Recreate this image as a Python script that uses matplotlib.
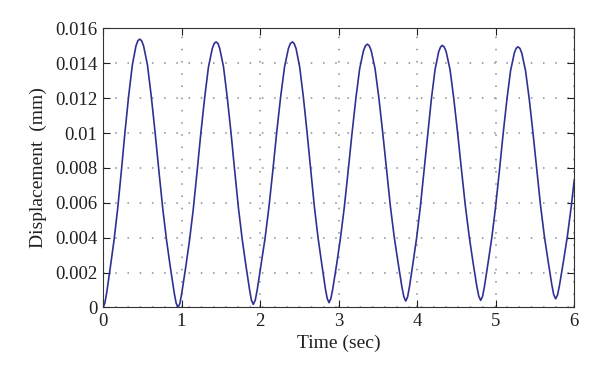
import matplotlib
matplotlib.use("Agg")
import matplotlib.pyplot as plt

# displacement trace (time in s, displacement in mm)
time_s = [
    0.000, 0.023, 0.047, 0.093, 0.140, 0.187, 0.234, 0.280, 0.327, 0.374, 0.420, 0.444, 0.467,
    0.491, 0.516, 0.565, 0.613, 0.662, 0.711, 0.760, 0.809, 0.857, 0.906, 0.931, 0.955,
    0.979, 1.003, 1.052, 1.100, 1.149, 1.197, 1.245, 1.294, 1.342, 1.391, 1.415, 1.439,
    1.463, 1.486, 1.534, 1.581, 1.629, 1.676, 1.723, 1.771, 1.818, 1.866, 1.889, 1.913,
    1.938, 1.963, 2.012, 2.062, 2.112, 2.162, 2.211, 2.261, 2.311, 2.360, 2.385, 2.410,
    2.433, 2.457, 2.503, 2.550, 2.597, 2.644, 2.690, 2.737, 2.784, 2.830, 2.854, 2.877,
    2.901, 2.926, 2.975, 3.023, 3.072, 3.121, 3.170, 3.219, 3.267, 3.316, 3.341, 3.365,
    3.389, 3.414, 3.463, 3.512, 3.561, 3.610, 3.658, 3.707, 3.756, 3.805, 3.830, 3.854,
    3.877, 3.901, 3.947, 3.994, 4.040, 4.087, 4.134, 4.180, 4.227, 4.273, 4.297, 4.320,
    4.344, 4.369, 4.418, 4.466, 4.515, 4.564, 4.613, 4.662, 4.710, 4.759, 4.784, 4.808,
    4.832, 4.856, 4.903, 4.951, 4.998, 5.046, 5.093, 5.141, 5.188, 5.236, 5.259, 5.283,
    5.307, 5.331, 5.379, 5.427, 5.475, 5.523, 5.570, 5.618, 5.666, 5.714, 5.738, 5.762,
    5.787, 5.812, 5.862, 5.912, 5.962, 6.000,
]
disp_mm = [
    0.0, 0.00025, 0.00085, 0.00231, 0.00385, 0.00569, 0.00785, 0.01008, 0.01216, 0.01393, 0.01501, 0.01530, 0.01539,
    0.01530, 0.01501, 0.01393, 0.01216, 0.01008, 0.00785, 0.00569, 0.00385, 0.00231, 0.00085, 0.00025, 0.0,
    0.00024, 0.00084, 0.00229, 0.00381, 0.00564, 0.00777, 0.00998, 0.01203, 0.01378, 0.01485, 0.01514, 0.01523,
    0.01514, 0.01485, 0.01380, 0.01207, 0.01004, 0.00786, 0.00575, 0.00394, 0.00244, 0.00101, 0.00042, 0.00018,
    0.00042, 0.00101, 0.00244, 0.00394, 0.00575, 0.00786, 0.01004, 0.01207, 0.01380, 0.01485, 0.01514, 0.01523,
    0.01514, 0.01486, 0.01381, 0.01209, 0.01007, 0.00790, 0.00581, 0.00402, 0.00252, 0.00110, 0.00052, 0.00028,
    0.00052, 0.00110, 0.00250, 0.00399, 0.00576, 0.00784, 0.00999, 0.01199, 0.01369, 0.01473, 0.01501, 0.01510,
    0.01501, 0.01473, 0.01370, 0.01201, 0.01002, 0.00788, 0.00582, 0.00405, 0.00258, 0.00118, 0.00061, 0.00037,
    0.00060, 0.00118, 0.00257, 0.00404, 0.00579, 0.00785, 0.00997, 0.01195, 0.01364, 0.01466, 0.01494, 0.01503,
    0.01494, 0.01466, 0.01364, 0.01196, 0.00999, 0.00787, 0.00582, 0.00407, 0.00260, 0.00121, 0.00064, 0.00041,
    0.00064, 0.00121, 0.00259, 0.00405, 0.00579, 0.00783, 0.00993, 0.01190, 0.01357, 0.01459, 0.01486, 0.01495,
    0.01486, 0.01459, 0.01358, 0.01192, 0.00996, 0.00787, 0.00585, 0.00411, 0.00267, 0.00129, 0.00073, 0.00050,
    0.00073, 0.00129, 0.00266, 0.00410, 0.00583, 0.00735,
]

x_ticks = [0, 1, 2, 3, 4, 5, 6]
y_ticks = [0, 0.002, 0.004, 0.006, 0.008, 0.01, 0.012, 0.014, 0.016]
y_tick_labels = ["0", "0.002", "0.004", "0.006", "0.008", "0.01", "0.012", "0.014", "0.016"]

plt.rcParams["font.family"] = ["Liberation Serif", "DejaVu Serif"]
plt.rcParams["font.size"] = 13.5
text_color = "#231f20"

fig = plt.figure(figsize=(6.0, 3.85), dpi=100)
ax = fig.add_axes([0.1717, 0.2013, 0.7855, 0.7247])

ax.plot(time_s, disp_mm, color="#2E3192", linewidth=1.2,
        solid_joinstyle="round", solid_capstyle="round")

ax.set_xlim(0, 6)
ax.set_ylim(0, 0.016)
ax.set_xticks(x_ticks)
ax.set_yticks(y_ticks)
ax.set_yticklabels(y_tick_labels)

# matlab-ish look: inward ticks on all sides, dotted grid
ax.tick_params(direction="in", length=5, width=0.8, top=True, right=True,
               colors=text_color, labelsize=13.5, pad=4)
ax.grid(True, color="#8a8a8a", linestyle=(0, (1, 7)), linewidth=1.1)
for sp in ax.spines.values():
    sp.set_color("#333333")
    sp.set_linewidth(0.8)

ax.set_xlabel("Time (sec)", color=text_color, fontsize=14, labelpad=3)
ax.set_ylabel("Displacement  (mm)", color=text_color, fontsize=14, labelpad=6)

fig.savefig("out.png", dpi=100)
